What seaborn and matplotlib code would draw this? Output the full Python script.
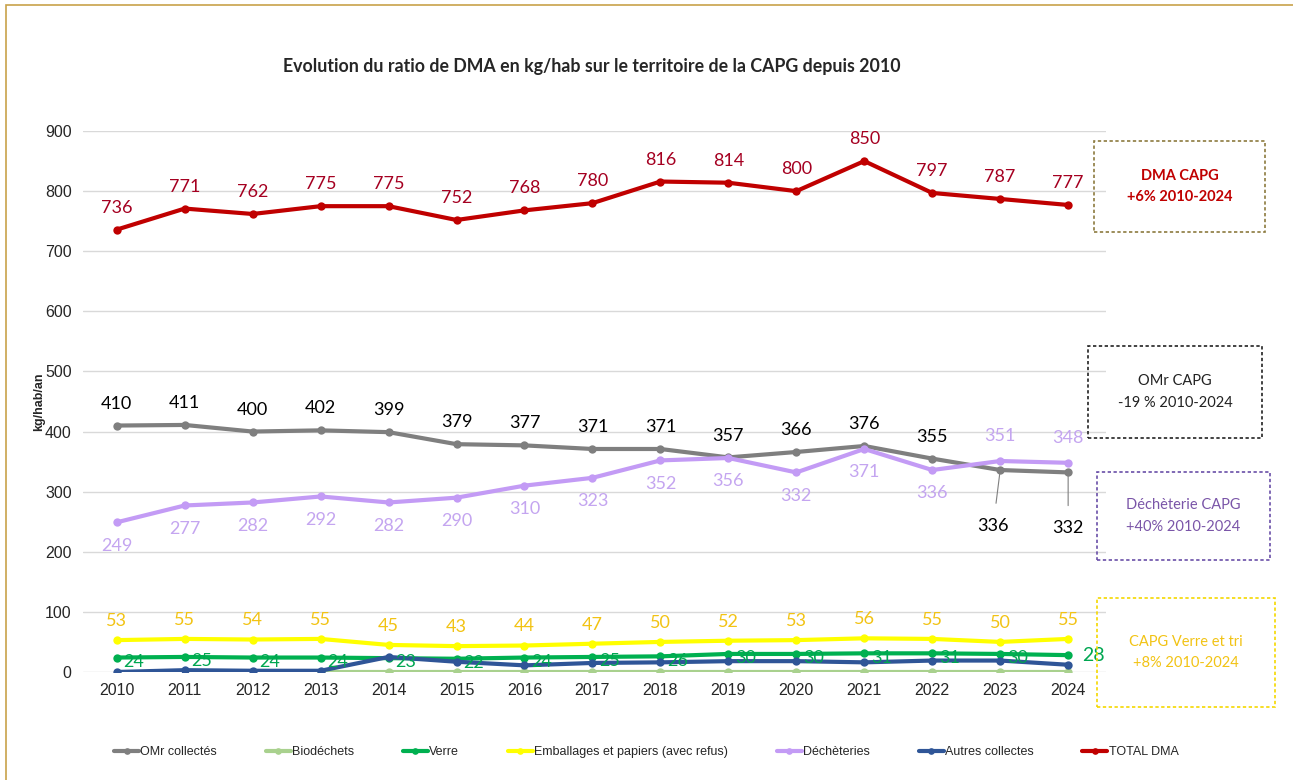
import numpy as np
import pandas as pd
import matplotlib
matplotlib.use('Agg')
import matplotlib.pyplot as plt
from matplotlib.patches import Rectangle
import seaborn as sns

# ---- data ----
years = list(range(2010, 2025))
total_dma = [736, 771, 762, 775, 775, 752, 768, 780, 816, 814, 800, 850, 797, 787, 777]
omr = [410, 411, 400, 402, 399, 379, 377, 371, 371, 357, 366, 376, 355, 336, 332]
decheteries = [249, 277, 282, 292, 282, 290, 310, 323, 352, 356, 332, 371, 336, 351, 348]
emballages = [53, 55, 54, 55, 45, 43, 44, 47, 50, 52, 53, 56, 55, 50, 55]
verre = [24, 25, 24, 24, 23, 22, 24, 25, 26, 30, 30, 31, 31, 30, 28]
autres = [0, 3, 2, 2, 25, 17, 11, 15, 16, 18, 18, 16, 19, 19, 12]
biodechets = [np.nan, np.nan, np.nan, 0, 0, 0, 0, 0, 0, 0, 0, 0, 0, 0, 0]

series_names = ['OMr collectés', 'Biodéchets', 'Verre', 'Emballages et papiers (avec refus)',
                'Déchèteries', 'Autres collectes', 'TOTAL DMA']
series_vals = [omr, biodechets, verre, emballages, decheteries, autres, total_dma]
colors = ['#7F7F7F', '#A9D18E', '#00B050', '#FFFF00', '#C39BF5', '#2F5597', '#C00000']

sns.set_style('white')
plt.rcParams['font.family'] = ['Liberation Sans', 'DejaVu Sans']

fig = plt.figure(figsize=(12.93, 7.8), dpi=100)
ax = fig.add_axes([0.064, 0.1385, 0.791, 0.6935])

for name, vals, col in zip(series_names, series_vals, colors):
    df = pd.DataFrame({'annee': years, 'val': vals}).dropna()
    sns.lineplot(data=df, x='annee', y='val', ax=ax, color=col, lw=3, marker='o',
                 markersize=6, markeredgewidth=0, label=name, zorder=3)

ax.set_xlim(2009.5, 2024.55)
ax.set_ylim(0, 900)
ax.set_xticks(years)
ax.set_yticks(range(0, 1000, 100))
ax.tick_params(axis='both', labelsize=11.5, length=0, pad=8)
ax.grid(axis='y', color='#D9D9D9', lw=1)
ax.grid(axis='x', visible=False)
for s in ax.spines.values():
    s.set_visible(False)
ax.set_xlabel('')
ax.set_ylabel('kg/hab/an', fontsize=9, fontweight='bold', labelpad=0)

lab_font = ['Lato', 'DejaVu Sans']

# data labels
for x, v in zip(years, total_dma):
    ax.annotate(str(v), (x, v), xytext=(0, 10), textcoords='offset points', ha='center',
                va='bottom', color='#A50021', fontsize=13, family=lab_font)
for x, v in zip(years, omr):
    if x >= 2023:
        ax.annotate(str(v), (x, v), xytext=(-5 if x == 2023 else 0, -40), textcoords='offset points',
                    ha='center', va='center', color='black', fontsize=13, family=lab_font,
                    arrowprops=dict(arrowstyle='-', color='#7F7F7F', lw=0.8, shrinkA=8, shrinkB=2))
    else:
        ax.annotate(str(v), (x, v), xytext=(0, 10), textcoords='offset points', ha='center',
                    va='bottom', color='black', fontsize=13, family=lab_font)
for x, v in zip(years, decheteries):
    if x >= 2023:
        ax.annotate(str(v), (x, v), xytext=(0, 12), textcoords='offset points', ha='center',
                    va='bottom', color='#C4A5F0', fontsize=13, family=lab_font)
    else:
        ax.annotate(str(v), (x, v), xytext=(0, -11), textcoords='offset points', ha='center',
                    va='top', color='#C4A5F0', fontsize=13, family=lab_font)
for x, v in zip(years, emballages):
    ax.annotate(str(v), (x, v), xytext=(0, 8), textcoords='offset points', ha='center',
                va='bottom', color='#F2C314', fontsize=13, family=lab_font)
for x, v in zip(years, verre):
    if x == 2024:
        ax.annotate(str(v), (x, v), xytext=(10, 0), textcoords='offset points', ha='left',
                    va='center', color='#00A651', fontsize=14, family=lab_font)
    else:
        ax.annotate(str(v), (x, v), xytext=(5, -3), textcoords='offset points', ha='left',
                    va='center', color='#00A651', fontsize=13, family=lab_font)

# title
fig.text(0.458, 0.915, 'Evolution du ratio de DMA en kg/hab sur le territoire de la CAPG depuis 2010',
         ha='center', va='center', fontsize=12.8, fontweight='bold', family=lab_font)

# side boxes
boxes = [
    (1094, 141, 171, 91, '#8C7A3E', 'DMA CAPG\n+6% 2010-2024', '#C00000', 'bold'),
    (1088, 346, 174, 92, '#222222', 'OMr CAPG\n-19 % 2010-2024', '#222222', 'normal'),
    (1097, 472, 173, 88, '#6A4FA8', 'Déchèterie CAPG\n+40% 2010-2024', '#7A55A8', 'normal'),
    (1097, 598, 178, 109, '#F5D800', 'CAPG Verre et tri\n+8% 2010-2024', '#F2C314', 'normal'),
]
W, H = 1293, 780
for bx, by, bw, bh, ec, txt, tc, fw in boxes:
    fig.patches.append(Rectangle((bx / W, 1 - (by + bh) / H), bw / W, bh / H, transform=fig.transFigure,
                                 fill=False, ec=ec, lw=1.2, ls=(0, (2, 1.5))))
    fig.text((bx + bw / 2) / W, 1 - (by + bh / 2) / H, txt, ha='center', va='center', color=tc,
             fontsize=10.5, fontweight=fw, linespacing=1.7, family=lab_font)

# outer frame
fig.patches.append(Rectangle((6 / W, -0.01), 1.02, 1 - 5 / H + 0.01, transform=fig.transFigure,
                             fill=False, ec='#C8A24A', lw=1.2))

# legend
ax.legend(loc='center', bbox_to_anchor=(0.551, -0.148),
          ncol=7, frameon=False, fontsize=9, handlelength=2.0, handletextpad=0.1,
          columnspacing=3.9, markerscale=0.8)

plt.savefig('out.png', dpi=100)
